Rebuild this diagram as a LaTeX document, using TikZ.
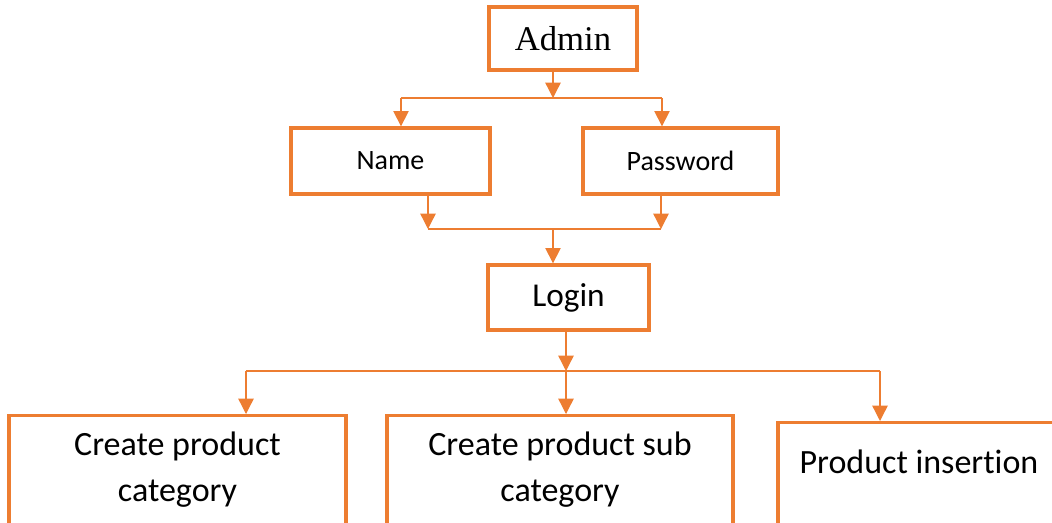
\documentclass[tikz,border=0pt]{standalone}
\usepackage{fontspec}
\setmainfont[Ligatures=NoCommon]{Carlito}
\newfontfamily\timesfont{Liberation Serif}
\usetikzlibrary{arrows.meta}
\definecolor{orng}{HTML}{ED7D31}
\begin{document}
\begin{tikzpicture}[x=0.75pt,y=-0.75pt,
  box/.style={draw=orng, line width=2.5pt, inner sep=0pt},
  conn/.style={draw=orng, line width=1pt},
  arr/.style={conn, -{Triangle[length=11.5pt,width=11.5pt]}},
  bigtext/.style={align=center, font=\fontsize{25.5}{34.5}\selectfont},
  midtext/.style={font=\fontsize{21}{25}\selectfont},
]
\useasboundingbox (0,0) rectangle (1052,522);
\clip (0,0) rectangle (1052,522);

% boxes
\node[box, minimum width={148*0.75pt}, minimum height={63*0.75pt}, font=\timesfont\fontsize{26}{30}\selectfont] (admin) at (563,38.5) {Admin};
\node[box, midtext, minimum width={199*0.75pt}, minimum height={66*0.75pt}] (name) at (390.5,161) {Name};
\node[box, midtext, minimum width={195*0.75pt}, minimum height={66*0.75pt}] (pass) at (680.5,161) {Password};
\node[box, minimum width={161*0.75pt}, minimum height={65*0.75pt}, font=\fontsize{25}{30}\selectfont] (login) at (568.5,297.5) {Login};

\node[box, minimum width={337*0.75pt}, minimum height={160*0.75pt}, anchor=north] (cat) at (177.5,414) {};
\node[box, minimum width={346*0.75pt}, minimum height={160*0.75pt}, anchor=north] (sub) at (560,414) {};
\node[box, minimum width={282*0.75pt}, minimum height={160*0.75pt}, anchor=north] (ins) at (919,421) {};

\node[bigtext] (catT) at (177.5,470) {Create product\\category};
\node[bigtext] (subT) at (560,470) {Create product sub\\category};
\node[bigtext] (insT) at (919,462) {Product insertion};

% connectors Admin -> Name/Password
\coordinate (j1) at (553,98);
\coordinate (j1L) at (401,98);
\coordinate (j1R) at (662,98);
\draw[arr] (admin.south -| j1) -- (j1);
\draw[conn] (j1L) -- (j1R);
\draw[arr] (j1L) -- (j1L |- name.north);
\draw[arr] (j1R) -- (j1R |- pass.north);

% Name/Password -> Login
\coordinate (j2) at (553,229);
\coordinate (j2L) at (428,229);
\coordinate (j2R) at (661,229);
\draw[arr] (name.south -| j2L) -- (j2L);
\draw[arr] (pass.south -| j2R) -- (j2R);
\draw[conn] (j2L) -- (j2R);
\draw[arr] (j2) -- (j2 |- login.north);

% Login -> bottom row
\coordinate (j3) at (566,371);
\coordinate (j3L) at (246,371);
\coordinate (j3R) at (880,371);
\draw[arr] (login.south -| j3) -- (j3);
\draw[conn] (j3L) -- (j3R);
\draw[arr] (j3L) -- (j3L |- cat.north);
\draw[arr] (j3) -- (j3 |- sub.north);
\draw[arr] (j3R) -- (j3R |- ins.north);
\end{tikzpicture}
\end{document}
